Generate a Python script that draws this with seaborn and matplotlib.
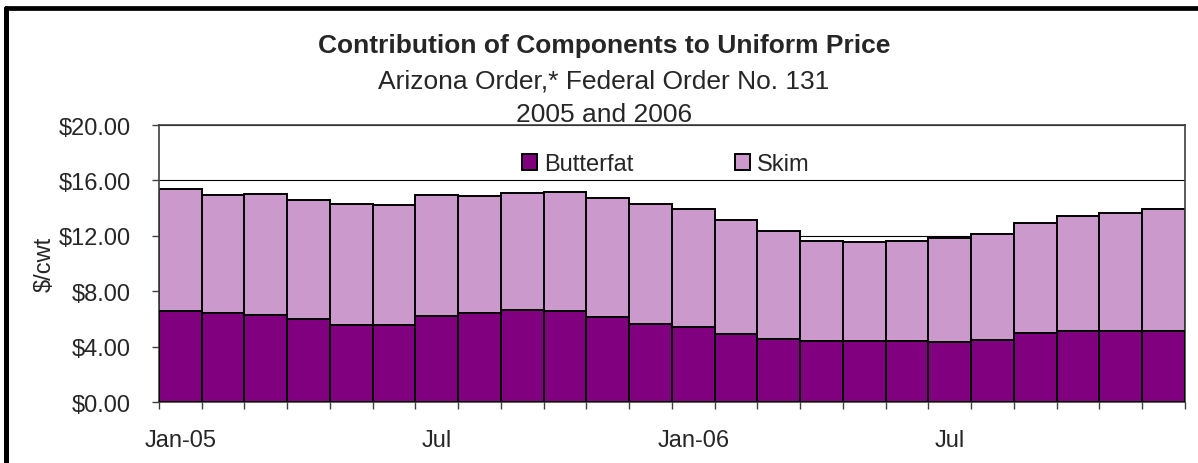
import matplotlib
matplotlib.use("Agg")
import matplotlib.pyplot as plt
import pandas as pd
import seaborn as sns
from matplotlib.lines import Line2D

# data ($/cwt)
months = ["Jan-05", "Feb-05", "Mar-05", "Apr-05", "May-05", "Jun-05",
          "Jul-05", "Aug-05", "Sep-05", "Oct-05", "Nov-05", "Dec-05",
          "Jan-06", "Feb-06", "Mar-06", "Apr-06", "May-06", "Jun-06",
          "Jul-06", "Aug-06", "Sep-06", "Oct-06", "Nov-06", "Dec-06"]
butterfat = [6.59, 6.43, 6.31, 6.02, 5.59, 5.59, 6.24, 6.43, 6.64, 6.62, 6.12, 5.68,
             5.40, 4.96, 4.60, 4.39, 4.41, 4.39, 4.32, 4.51, 5.01, 5.16, 5.13, 5.11]
skim = [8.76, 8.51, 8.73, 8.56, 8.70, 8.61, 8.70, 8.44, 8.47, 8.56, 8.63, 8.59,
        8.53, 8.18, 7.73, 7.26, 7.17, 7.24, 7.50, 7.65, 7.89, 8.27, 8.54, 8.85]
tick_labels = ["Jan-05", "Jul", "Jan-06", "Jul"]
tick_pos = [0, 6, 12, 18]
yticks = [0, 4, 8, 12, 16, 20]

df = pd.DataFrame({"Month": months, "Butterfat": butterfat, "Skim": skim})
df["Total"] = df["Butterfat"] + df["Skim"]

sns.set_style("white")
plt.rcParams["font.family"] = ["Liberation Sans", "DejaVu Sans"]

fig = plt.figure(figsize=(11.98, 4.64), dpi=100)
ax = fig.add_axes([0.1327, 0.1308, 0.8564, 0.5976])

# skim stacked on butterfat: draw total first, butterfat on top
sns.barplot(data=df, x="Month", y="Total", order=months, color="#CC99CC",
            width=1.0, edgecolor="black", linewidth=1.4, saturation=1,
            label="Skim", ax=ax, zorder=2)
sns.barplot(data=df, x="Month", y="Butterfat", order=months, color="#800080",
            width=1.0, edgecolor="black", linewidth=1.4, saturation=1,
            label="Butterfat", ax=ax, zorder=3)

ax.set_ylim(0, 20)
ax.set_xlim(-0.5, len(months) - 0.5)
ax.set_yticks(yticks)
ax.set_yticklabels(["${:.2f}".format(v) for v in yticks])
ax.set_xticks(tick_pos)
ax.set_xticklabels(tick_labels)
ax.set_xticks([i - 0.5 for i in range(len(months) + 1)], minor=True)
ax.tick_params(axis="x", which="major", length=0, pad=19, labelsize=17)
ax.tick_params(axis="x", which="minor", length=5, width=1, color="#404040",
               direction="out", bottom=True)
ax.tick_params(axis="y", length=5, width=1, color="#404040", direction="out",
               pad=15, labelsize=17, left=True)
ax.set_xlabel("")
ax.set_ylabel("$/cwt", fontsize=17, labelpad=2)

ax.yaxis.grid(True, color="black", linewidth=0.8, zorder=0)
ax.set_axisbelow(True)
for side in ["left", "right", "top", "bottom"]:
    ax.spines[side].set_visible(True)
    ax.spines[side].set_color("#404040")
    ax.spines[side].set_linewidth(1.2)

h, l = ax.get_legend_handles_labels()
order = [l.index("Butterfat"), l.index("Skim")]
leg = ax.legend([h[i] for i in order], [l[i] for i in order], loc="center",
                bbox_to_anchor=(0.494, 0.858), ncol=2, frameon=False, fontsize=17,
                handlelength=0.62, handleheight=0.62, handletextpad=0.3,
                columnspacing=4.3)

fig.text(0.504, 1 - 53 / 464, "Contribution of Components to Uniform Price",
         ha="center", va="baseline", fontsize=19, fontweight="bold")
fig.text(0.504, 1 - 88 / 464, "Arizona Order,* Federal Order No. 131",
         ha="center", va="baseline", fontsize=19)
fig.text(0.504, 1 - 122 / 464, "2005 and 2006", ha="center", va="baseline",
         fontsize=19)

# outer chart border (left and top visible)
fig.add_artist(Line2D([6 / 1198, 6 / 1198], [0, 1 - 9 / 464],
                      transform=fig.transFigure, color="black", linewidth=3.6))
fig.add_artist(Line2D([6 / 1198, 1], [1 - 9 / 464, 1 - 9 / 464],
                      transform=fig.transFigure, color="black", linewidth=3.4))

plt.savefig("out.png", dpi=100)
